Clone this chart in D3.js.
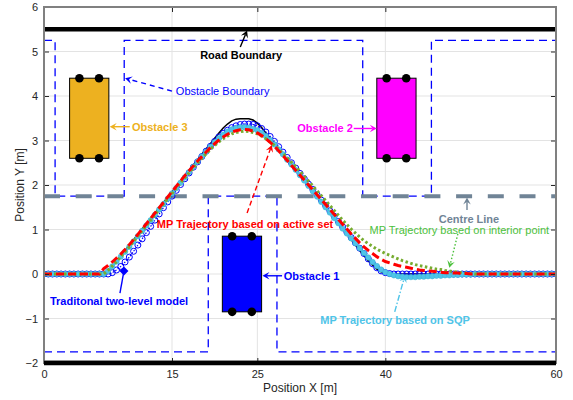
<!DOCTYPE html>
<html><head><meta charset="utf-8">
<script src="https://cdn.jsdelivr.net/npm/d3@7/dist/d3.min.js"></script>
<style>
body{margin:0;background:#fff;}
svg{display:block;font-family:"Liberation Sans",Arial,Helvetica,sans-serif;}
</style>
</head><body>
<svg id="chart" width="573" height="400"></svg>
<script>
// ---------- data ----------
const xTicks = [0, 15, 25, 40, 60];
const yTicks = [-2, -1, 0, 1, 2, 3, 4, 5, 6];
// sample positions along X (0 .. 60 every 0.5 m)
const sampleX = d3.range(121).map(i => i * 0.5);

// black reference path
const desiredPath = [
  0,0,0,0,0,0,0,0,0,0,
  0,0,0,0,0,0.06,0.17,0.29,0.41,0.53,
  0.65,0.77,0.89,1.01,1.13,1.25,1.37,1.49,1.61,1.73,
  1.85,1.97,2.09,2.21,2.33,2.45,2.57,2.69,2.81,2.93,
  3.05,3.17,3.28,3.37,3.44,3.48,3.49,3.49,3.49,3.46,
  3.39,3.29,3.17,3.05,2.93,2.81,2.69,2.57,2.45,2.33,
  2.21,2.09,1.97,1.85,1.73,1.61,1.49,1.37,1.25,1.13,
  1.01,0.89,0.77,0.65,0.53,0.41,0.30,0.20,0.11,0.05,
  0.02,0,0,0,0,0,0,0,0,0,
  0,0,0,0,0,0,0,0,0,0,
  0,0,0,0,0,0,0,0,0,0,
  0,0,0,0,0,0,0,0,0,0,
  0];
// traditional two-level model (blue circles)
const twoLevel = [
  0,0,0,0,0,0,0,0,0,0,
  0,0,0,0,0,0,0.03,0.09,0.17,0.27,
  0.38,0.51,0.65,0.79,0.93,1.07,1.21,1.35,1.49,1.62,
  1.75,1.88,2.01,2.14,2.27,2.40,2.52,2.64,2.76,2.87,
  2.98,3.08,3.16,3.23,3.29,3.33,3.36,3.37,3.37,3.36,
  3.33,3.27,3.19,3.09,2.98,2.86,2.74,2.62,2.50,2.38,
  2.26,2.14,2.02,1.90,1.78,1.66,1.54,1.42,1.30,1.18,
  1.06,0.94,0.82,0.70,0.58,0.46,0.34,0.23,0.14,0.07,
  0.03,0.01,0,0,0,0,0,0,0,0,
  0,0,0,0,0,0,0,0,0,0,
  0,0,0,0,0,0,0,0,0,0,
  0,0,0,0,0,0,0,0,0,0,
  0];
// MP trajectory based on SQP (cyan)
const sqp = [
  0,0,0,0,0,0,0,0,0,0,
  0,0,0,0,0,0.07,0.17,0.28,0.39,0.50,
  0.61,0.73,0.85,0.97,1.09,1.21,1.33,1.45,1.57,1.69,
  1.81,1.93,2.05,2.17,2.29,2.41,2.53,2.64,2.75,2.86,
  2.96,3.05,3.13,3.20,3.25,3.28,3.30,3.30,3.29,3.26,
  3.23,3.17,3.10,3.01,2.91,2.80,2.69,2.57,2.46,2.34,
  2.22,2.10,1.98,1.86,1.74,1.62,1.50,1.38,1.26,1.14,
  1.02,0.91,0.80,0.69,0.58,0.47,0.37,0.27,0.18,0.10,
  0.04,0.00,-0.03,-0.05,-0.06,-0.07,-0.07,-0.07,-0.06,-0.06,
  -0.05,-0.05,-0.04,-0.04,-0.03,-0.03,-0.02,-0.02,-0.01,-0.01,
  -0.01,0,0,0,0,0,0,0,0,0,
  0,0,0,0,0,0,0,0,0,0,
  0];
// MP trajectory based on active set (red dashed)
const activeSet = [
  0,0,0,0,0,0,0,0,0,0,
  0,0,0,0,0.12,0.19,0.27,0.36,0.45,0.55,
  0.66,0.77,0.89,1.01,1.13,1.25,1.37,1.49,1.61,1.73,
  1.85,1.97,2.09,2.21,2.32,2.43,2.54,2.64,2.74,2.84,
  2.93,3.01,3.08,3.14,3.19,3.22,3.24,3.25,3.24,3.21,
  3.17,3.11,3.04,2.96,2.87,2.77,2.66,2.55,2.44,2.33,
  2.22,2.11,2.00,1.89,1.78,1.67,1.56,1.45,1.34,1.23,
  1.12,1.01,0.90,0.80,0.70,0.61,0.53,0.46,0.39,0.33,
  0.28,0.25,0.22,0.19,0.17,0.15,0.13,0.11,0.09,0.08,
  0.07,0.06,0.05,0.04,0.03,0.03,0.02,0.02,0.01,0.01,
  0,0,0,0,0,0,0,0,0,0,
  0,0,0,0,0,0,0,0,0,0,
  0];
// MP trajectory based on interior point (green dotted)
const interiorPoint = [
  0,0,0,0,0,0,0,0,0,0,
  0,0,0,0,0,0.08,0.18,0.28,0.39,0.50,
  0.61,0.73,0.85,0.97,1.09,1.21,1.33,1.45,1.57,1.69,
  1.81,1.93,2.05,2.16,2.27,2.38,2.49,2.60,2.70,2.80,
  2.89,2.97,3.04,3.10,3.15,3.18,3.20,3.21,3.20,3.18,
  3.15,3.10,3.04,2.97,2.89,2.80,2.71,2.61,2.51,2.41,
  2.31,2.20,2.09,1.98,1.87,1.76,1.65,1.54,1.43,1.32,
  1.21,1.11,1.01,0.92,0.83,0.75,0.68,0.62,0.56,0.51,
  0.46,0.42,0.38,0.34,0.30,0.27,0.24,0.21,0.19,0.17,
  0.15,0.13,0.11,0.10,0.08,0.07,0.05,0.04,0.03,0.02,
  0.01,0,0,0,0,0,0,0,0,0,
  0,0,0,0,0,0,0,0,0,0,
  0];

// road geometry
const roadBoundaryY = [5.5, -2];
const centreLineY = 1.75;
const upperBoundaryX = [0, 1.3, 1.3, 9.4, 9.4, 37.35, 37.35, 45.4, 45.4, 60];
const upperBoundaryY = [5.25, 5.25, 1.75, 1.75, 5.25, 5.25, 1.75, 1.75, 5.25, 5.25];
const lowerBoundaryX = [0, 19.25, 19.25, 27.3, 27.3, 60];
const lowerBoundaryY = [-1.75, -1.75, 1.75, 1.75, -1.75, -1.75];

// obstacles (1, 2, 3)
const obstacleNames = ["Obstacle 1", "Obstacle 2", "Obstacle 3"];
const obstacleX0 = [20.9, 39.0, 3.0];
const obstacleX1 = [25.5, 43.6, 7.6];
const obstacleY0 = [-0.85, 2.6, 2.6];
const obstacleY1 = [0.85, 4.4, 4.4];
const obstacleColors = ["#0000FF", "#FF00FF", "#EDB120"];
const wheelOffset = 1.15;

// ---------- chart ----------
const svg = d3.select("#chart");
const L = 44, R = 556, T = 7, B = 363;
const x = d3.scaleLinear().domain([0, 60]).range([L, R]);
const y = d3.scaleLinear().domain([-2, 6]).range([B, T]);

svg.append("rect").attr("width", 573).attr("height", 400).attr("fill", "#fff");
svg.append("defs").append("clipPath").attr("id", "clip")
  .append("rect").attr("x", L).attr("y", T).attr("width", R - L).attr("height", B - T);

// grid
const grid = svg.append("g").attr("stroke", "#e3e3e3").attr("stroke-width", 1);
xTicks.filter(v => v > 0 && v < 60).forEach(v =>
  grid.append("line").attr("x1", x(v)).attr("x2", x(v)).attr("y1", T).attr("y2", B));
yTicks.filter(v => v > -2 && v < 6).forEach(v =>
  grid.append("line").attr("y1", y(v)).attr("y2", y(v)).attr("x1", L).attr("x2", R));

const plot = svg.append("g").attr("clip-path", "url(#clip)");
const line = d3.line().x(d => x(d[0])).y(d => y(d[1]));

// obstacle boundary
plot.append("path").datum(upperBoundaryX.map((v, i) => [v, upperBoundaryY[i]]))
  .attr("d", line).attr("fill", "none").attr("stroke", "#0000FF")
  .attr("stroke-width", 1.3).attr("stroke-dasharray", "8,5");
plot.append("path").datum(lowerBoundaryX.map((v, i) => [v, lowerBoundaryY[i]]))
  .attr("d", line).attr("fill", "none").attr("stroke", "#0000FF")
  .attr("stroke-width", 1.3).attr("stroke-dasharray", "8,5");

// centre line
plot.append("line").attr("x1", x(0)).attr("x2", x(60))
  .attr("y1", y(centreLineY)).attr("y2", y(centreLineY))
  .attr("stroke", "#708496").attr("stroke-width", 4).attr("stroke-dasharray", "16,15.7");

// road boundaries
roadBoundaryY.forEach(v => plot.append("line").attr("x1", x(0)).attr("x2", x(60))
  .attr("y1", y(v)).attr("y2", y(v)).attr("stroke", "#000").attr("stroke-width", 4.5));

// obstacles
obstacleNames.forEach((n, i) => {
  plot.append("rect").attr("x", x(obstacleX0[i])).attr("y", y(obstacleY1[i]))
    .attr("width", x(obstacleX1[i]) - x(obstacleX0[i]))
    .attr("height", y(obstacleY0[i]) - y(obstacleY1[i]))
    .attr("fill", obstacleColors[i]).attr("stroke", "#000").attr("stroke-width", 1);
  const cx = (obstacleX0[i] + obstacleX1[i]) / 2;
  [cx - wheelOffset, cx + wheelOffset].forEach(wx => {
    [obstacleY0[i], obstacleY1[i]].forEach(wy => {
      plot.append("circle").attr("cx", x(wx)).attr("cy", y(wy)).attr("r", 4.3).attr("fill", "#000");
    });
  });
});

const pts = arr => sampleX.map((v, i) => [v, arr[i]]);

// black path
plot.append("path").datum(pts(desiredPath)).attr("d", line).attr("fill", "none")
  .attr("stroke", "#000").attr("stroke-width", 1.5);
// blue circles
plot.append("path").datum(pts(twoLevel)).attr("d", line).attr("fill", "none")
  .attr("stroke", "#0000FF").attr("stroke-width", 1.2).attr("stroke-dasharray", "1.5,1.5");
plot.append("g").selectAll("circle").data(pts(twoLevel)).join("circle")
  .attr("cx", d => x(d[0])).attr("cy", d => y(d[1])).attr("r", 3)
  .attr("fill", "none").attr("stroke", "#0000FF").attr("stroke-width", 1);
// cyan SQP
plot.append("path").datum(pts(sqp)).attr("d", line).attr("fill", "none")
  .attr("stroke", "#4FC4E8").attr("stroke-width", 2.5);
plot.append("g").selectAll("circle").data(pts(sqp)).join("circle")
  .attr("cx", d => x(d[0])).attr("cy", d => y(d[1])).attr("r", 2.7)
  .attr("fill", "#4FC4E8").attr("stroke", "#3DB5D5").attr("stroke-width", 0.6);
// green interior point
plot.append("path").datum(pts(interiorPoint)).attr("d", line).attr("fill", "none")
  .attr("stroke", "#77AC30").attr("stroke-width", 3).attr("stroke-dasharray", "2.5,2.5");
// red active set
plot.append("path").datum(pts(activeSet)).attr("d", line).attr("fill", "none")
  .attr("stroke", "#FF0000").attr("stroke-width", 3).attr("stroke-dasharray", "8,4");

// ---------- annotations ----------
function arrow(x1, y1, x2, y2, color, dash, head) {
  const ax = x(x1), ay = y(y1), bx = x(x2), by = y(y2);
  const len = Math.hypot(bx - ax, by - ay);
  const ux = (bx - ax) / len, uy = (by - ay) / len, nx = -uy, ny = ux;
  const g = svg.append("g");
  const hl = head === "diamond" ? 0 : 7;
  g.append("line").attr("x1", ax).attr("y1", ay)
    .attr("x2", bx - ux * hl * 0.6).attr("y2", by - uy * hl * 0.6)
    .attr("stroke", color).attr("stroke-width", 1.4)
    .attr("stroke-dasharray", dash || null);
  if (head === "diamond") {
    const s = 4.5;
    g.append("path").attr("d", `M${bx},${by - s}L${bx + s},${by}L${bx},${by + s}L${bx - s},${by}Z`)
      .attr("fill", color);
  } else {
    const w = 3.8;
    g.append("path").attr("d",
      `M${bx},${by}L${bx - ux * hl + nx * w},${by - uy * hl + ny * w}` +
      `L${bx - ux * hl * 0.6},${by - uy * hl * 0.6}` +
      `L${bx - ux * hl - nx * w},${by - uy * hl - ny * w}Z`).attr("fill", color);
  }
}
function label(t, tx, ty, anchor, color, weight) {
  svg.append("text").attr("x", x(tx)).attr("y", y(ty)).attr("dy", "0.35em")
    .attr("text-anchor", anchor).attr("fill", color).attr("font-size", 11)
    .attr("font-weight", weight).text(t);
}

label("Road Boundary", 23.1, 4.92, "middle", "#000", "bold");
arrow(23.0, 5.1, 23.8, 5.47, "#000", null, "arrow");

label("Obstacle Boundary", 15.45, 4.1, "start", "#0000FF", "normal");
arrow(15.0, 4.11, 9.5, 4.4, "#0000FF", "5,4", "arrow");

label("Obstacle 3", 10.3, 3.31, "start", "#EDB120", "bold");
arrow(10.05, 3.31, 7.7, 3.31, "#EDB120", null, "arrow");

label("Obstacle 2", 36.2, 3.27, "end", "#FF00FF", "bold");
arrow(36.3, 3.27, 39.0, 3.27, "#FF00FF", null, "arrow");

label("Obstacle 1", 28.1, -0.04, "start", "#0000FF", "bold");
arrow(27.9, -0.04, 25.6, -0.04, "#0000FF", null, "arrow");

label("MP Trajectory based on active set", 33.9, 1.12, "end", "#FF0000", "bold");
arrow(23.8, 1.37, 26.7, 2.9, "#FF0000", "5,3", "arrow");

label("Centre Line", 49.8, 1.23, "middle", "#708496", "bold");
arrow(49.57, 1.44, 49.57, 1.72, "#708496", null, "arrow");

label("MP Trajectory based on interior point", 59.2, 0.99, "end", "#4CC13C", "normal");
arrow(48.5, 0.9, 47.5, 0.14, "#4CC13C", "1.5,2", "arrow");

label("MP Trajectory based on SQP", 49.9, -1.03, "end", "#4FC4E8", "bold");
arrow(41.1, -0.85, 42.3, -0.03, "#4FC4E8", "6,2,1.5,2", "arrow");

label("Traditonal two-level model", 0.7, -0.6, "start", "#0000FF", "bold");
arrow(8.9, -0.43, 9.37, 0.07, "#0000FF", null, "diamond");

// ---------- axes ----------
const axColor = "#262626";
const gx = svg.append("g").attr("transform", `translate(0,${B})`)
  .call(d3.axisBottom(x).tickValues(xTicks).tickSizeInner(-5).tickSizeOuter(0).tickPadding(7));
const gy = svg.append("g").attr("transform", `translate(${L},0)`)
  .call(d3.axisLeft(y).tickValues(yTicks).tickSizeInner(-5).tickSizeOuter(0).tickPadding(6));
const gt = svg.append("g").attr("transform", `translate(0,${T})`)
  .call(d3.axisTop(x).tickValues(xTicks).tickSizeInner(-5).tickSizeOuter(0).tickFormat(""));
const gr = svg.append("g").attr("transform", `translate(${R},0)`)
  .call(d3.axisRight(y).tickValues(yTicks).tickSizeInner(-5).tickSizeOuter(0).tickFormat(""));
[gx, gy, gt, gr].forEach(g => {
  g.select(".domain").remove();
  g.selectAll(".tick line").attr("stroke", axColor).attr("stroke-width", 1);
  g.selectAll(".tick text").attr("fill", axColor).attr("font-size", 11)
    .attr("font-family", '"Liberation Sans",Arial,sans-serif');
});
svg.append("rect").attr("x", L).attr("y", T).attr("width", R - L).attr("height", B - T)
  .attr("fill", "none").attr("stroke", "#808080").attr("stroke-width", 2);
svg.append("line").attr("x1", L).attr("x2", R).attr("y1", y(-2)).attr("y2", y(-2))
  .attr("stroke", "#000").attr("stroke-width", 4.5);

svg.append("text").attr("x", (L + R) / 2).attr("y", 388).attr("dy", "0.35em")
  .attr("text-anchor", "middle").attr("font-size", 12).attr("fill", axColor).text("Position X [m]");
svg.append("text").attr("transform", `translate(20,${(T + B) / 2}) rotate(-90)`).attr("dy", "0.35em")
  .attr("text-anchor", "middle").attr("font-size", 12).attr("fill", axColor).text("Position Y [m]");
</script>
</body></html>
